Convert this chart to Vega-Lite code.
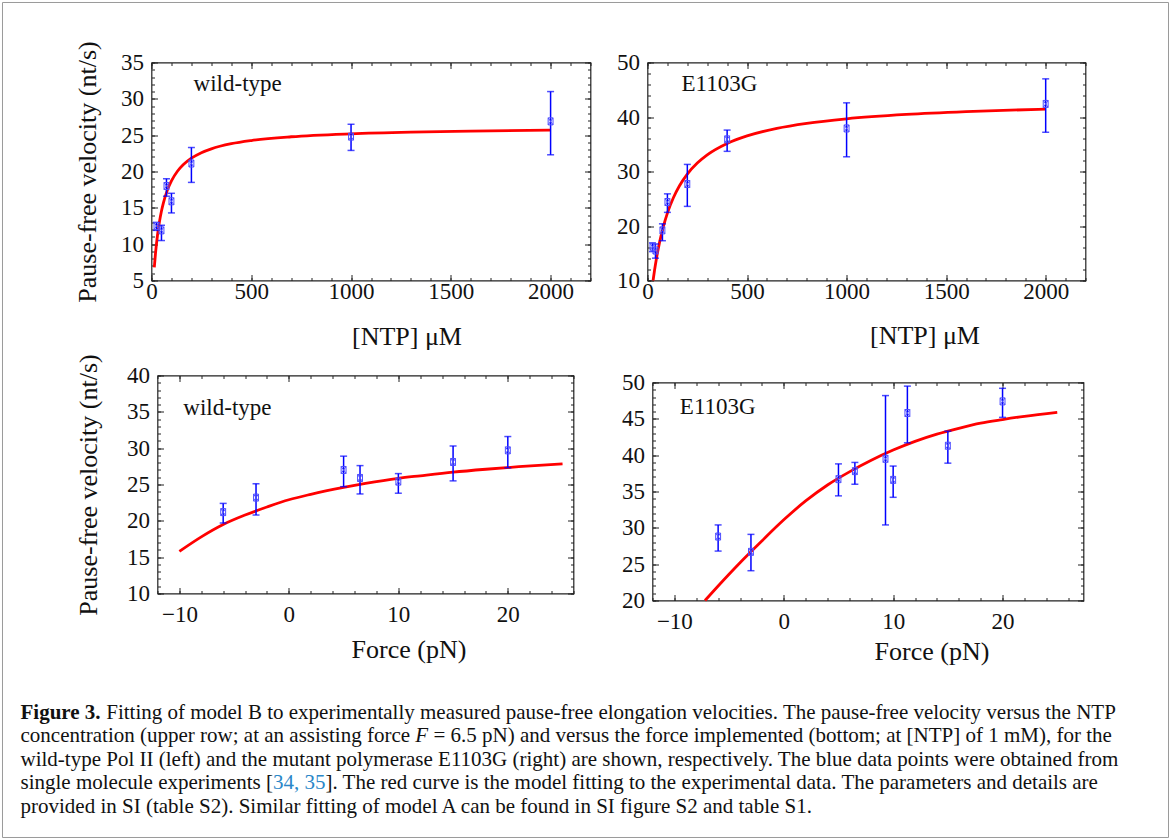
{
  "$schema": "https://vega.github.io/schema/vega-lite/v6.json",
  "background": "white",
  "padding": {"left": 1.5, "top": 1.5, "right": 0, "bottom": 0},
  "autosize": {"type": "pad"},
  "config": {
    "font": "Liberation Serif",
    "view": {"stroke": null},
    "axis": {"grid": false, "domain": false, "labelFont": "Liberation Serif", "labelFontSize": 23, "labelColor": "#111", "titleFont": "Liberation Serif", "titleFontSize": 26, "titleFontWeight": "normal", "titleColor": "#111", "labelFlush": false, "labelOverlap": false, "tickColor": "#222", "tickWidth": 1}
  },
  "datasets": {
    "wt_ntp_pts": [{"x":25,"y":12.5,"lo":11.9,"hi":13.0},{"x":50,"y":11.9,"lo":10.5,"hi":12.6},{"x":75,"y":18.0,"lo":16.6,"hi":19.0},{"x":100,"y":15.9,"lo":14.3,"hi":17.0},{"x":200,"y":21.1,"lo":18.5,"hi":23.3},{"x":1000,"y":24.8,"lo":22.9,"hi":26.5},{"x":2000,"y":26.9,"lo":22.3,"hi":31.0}],
    "wt_ntp_fit": [{"x":14,"y":6.79},{"x":20,"y":8.73},{"x":30,"y":11.23},{"x":40,"y":13.1},{"x":50,"y":14.56},{"x":60,"y":15.72},{"x":80,"y":17.47},{"x":100,"y":18.71},{"x":130,"y":20.04},{"x":160,"y":20.96},{"x":200,"y":21.83},{"x":250,"y":22.59},{"x":300,"y":23.12},{"x":400,"y":23.82},{"x":500,"y":24.26},{"x":700,"y":24.78},{"x":1000,"y":25.19},{"x":1300,"y":25.42},{"x":1600,"y":25.56},{"x":2000,"y":25.69}],
    "mut_ntp_pts": [{"x":25,"y":16.2,"lo":15.3,"hi":16.9},{"x":40,"y":15.5,"lo":14.1,"hi":16.7},{"x":75,"y":19.2,"lo":17.3,"hi":20.4},{"x":100,"y":24.4,"lo":22.5,"hi":25.9},{"x":200,"y":27.7,"lo":23.6,"hi":31.3},{"x":400,"y":35.9,"lo":33.7,"hi":37.6},{"x":1000,"y":37.9,"lo":32.7,"hi":42.6},{"x":2000,"y":42.4,"lo":37.2,"hi":47.0}],
    "mut_ntp_fit": [{"x":28,"y":10.0},{"x":35,"y":11.78},{"x":45,"y":14.05},{"x":60,"y":16.91},{"x":80,"y":19.95},{"x":100,"y":22.37},{"x":130,"y":25.19},{"x":160,"y":27.34},{"x":200,"y":29.52},{"x":250,"y":31.54},{"x":300,"y":33.05},{"x":400,"y":35.14},{"x":500,"y":36.53},{"x":650,"y":37.92},{"x":800,"y":38.84},{"x":1000,"y":39.67},{"x":1300,"y":40.47},{"x":1600,"y":40.99},{"x":2000,"y":41.45}],
    "wt_f_pts": [{"x":-6,"y":21.2,"lo":19.7,"hi":22.4},{"x":-3,"y":23.2,"lo":20.8,"hi":25.1},{"x":5,"y":27.0,"lo":24.7,"hi":28.9},{"x":6.5,"y":25.9,"lo":23.7,"hi":27.6},{"x":10,"y":25.4,"lo":23.8,"hi":26.5},{"x":15,"y":28.1,"lo":25.5,"hi":30.3},{"x":20,"y":29.7,"lo":27.3,"hi":31.6}],
    "wt_f_fit": [{"x":-10,"y":15.8},{"x":-8,"y":17.8},{"x":-6,"y":19.5},{"x":-4,"y":20.8},{"x":-2,"y":21.9},{"x":0,"y":22.9},{"x":2,"y":23.65},{"x":5,"y":24.6},{"x":7,"y":25.15},{"x":10,"y":25.85},{"x":12,"y":26.2},{"x":15,"y":26.7},{"x":18,"y":27.1},{"x":21,"y":27.45},{"x":25,"y":27.85}],
    "mut_f_pts": [{"x":-6,"y":28.8,"lo":26.8,"hi":30.4},{"x":-3,"y":26.7,"lo":24.1,"hi":29.1},{"x":5,"y":36.7,"lo":34.4,"hi":38.8},{"x":6.5,"y":37.8,"lo":36.0,"hi":39.0},{"x":9.3,"y":39.5,"lo":30.4,"hi":48.2},{"x":10,"y":36.6,"lo":34.2,"hi":38.5},{"x":11.3,"y":45.8,"lo":41.7,"hi":49.5},{"x":15,"y":41.3,"lo":38.9,"hi":43.3},{"x":20,"y":47.4,"lo":45.2,"hi":49.2}],
    "mut_f_fit": [{"x":-7.2,"y":20.0},{"x":-6,"y":22.0},{"x":-4,"y":25.2},{"x":-2,"y":28.2},{"x":0,"y":31.1},{"x":2,"y":33.7},{"x":4,"y":35.9},{"x":6,"y":37.7},{"x":8,"y":39.3},{"x":10,"y":40.7},{"x":12,"y":41.9},{"x":14,"y":42.9},{"x":16,"y":43.7},{"x":18,"y":44.4},{"x":20,"y":44.9},{"x":22,"y":45.35},{"x":25,"y":45.9}],
    "caption": [
      {"line":1,"text":"Figure 3.","style":"bold"},
      {"line":1,"text":"Fitting of model B to experimentally measured pause-free elongation velocities. The pause-free velocity versus the NTP","style":"rest1"},
      {"line":2,"text":"concentration (upper row; at an assisting force","style":"main"},
      {"line":2,"text":"F","style":"italic"},
      {"line":2,"text":"= 6.5 pN) and versus the force implemented (bottom; at [NTP] of 1 mM), for the","style":"after_f"},
      {"line":3,"text":"wild-type Pol II (left) and the mutant polymerase E1103G (right) are shown, respectively. The blue data points were obtained from","style":"main"},
      {"line":4,"text":"single molecule experiments [","style":"main"},
      {"line":4,"text":"34, 35","style":"ref"},
      {"line":4,"text":"]. The red curve is the model fitting to the experimental data. The parameters and details are","style":"after_ref"},
      {"line":5,"text":"provided in SI (table S2). Similar fitting of model A can be found in SI figure S2 and table S1.","style":"main"}
    ]
  },
  "bounds": "flush",
  "spacing": 638.25,
  "vconcat": [
    {
      "spacing": 2,
      "vconcat": [
        {
          "bounds": "flush",
          "spacing": 130,
          "hconcat": [
            {"width": 1, "height": 1, "view": {"stroke": null}, "data": {"values": [{"a": 0}]}, "mark": {"type": "point", "opacity": 0}},
            {
              "bounds": "flush",
              "spacing": 57,
              "hconcat": [
                {
                  "width": 439, "height": 218,
                  "view": {"stroke": "#222", "strokeWidth": 1.2},
                  "resolve": {"axis": {"x": "independent", "y": "independent"}},
                  "layer": [
                    {"data": {"name": "wt_ntp_fit"}, "mark": {"type": "line", "color": "#ff0000", "strokeWidth": 2.8, "interpolate": "monotone"},
                     "encoding": {
                       "x": {"field": "x", "type": "quantitative", "scale": {"domain": [0, 2200], "nice": false, "zero": false}, "axis": {"orient": "bottom", "title": "[NTP] μM", "format": "d", "values": [0, 500, 1000, 1500, 2000], "ticks": false, "tickSize": 0, "labelPadding": 0, "titleX": 255, "titleY": 64, "titleAlign": "center", "titleBaseline": "alphabetic", "titleAngle": 0}},
                       "y": {"field": "y", "type": "quantitative", "scale": {"domain": [5, 35], "nice": false, "zero": false}, "axis": {"orient": "left", "title": "Pause-free velocity (nt/s)", "values": [5, 10, 15, 20, 25, 30, 35], "ticks": false, "tickSize": 0, "labelPadding": 8, "titleX": -64.5, "titleY": 109, "titleAngle": 270, "titleAlign": "center", "titleBaseline": "middle"}}
                     }},
                    {"data": {"name": "wt_ntp_pts"}, "mark": {"type": "rule", "color": "#0000ff", "strokeWidth": 1.5},
                     "encoding": {
                       "x": {"field": "x", "type": "quantitative", "scale": {"domain": [0, 2200], "nice": false, "zero": false}, "axis": {"orient": "bottom", "labels": false, "title": null, "values": [0, 500, 1000, 1500, 2000], "tickSize": 6, "offset": -6}},
                       "y": {"field": "lo", "type": "quantitative", "scale": {"domain": [5, 35], "nice": false, "zero": false}, "axis": {"orient": "left", "labels": false, "title": null, "values": [5, 10, 15, 20, 25, 30, 35], "tickSize": 6, "offset": -6}},
                       "y2": {"field": "hi"}
                     }},
                    {"data": {"name": "wt_ntp_pts"}, "mark": {"type": "tick", "orient": "horizontal", "color": "#0000ff", "size": 7, "thickness": 1.5},
                     "encoding": {
                       "x": {"field": "x", "type": "quantitative", "scale": {"domain": [0, 2200], "nice": false, "zero": false}, "axis": {"orient": "bottom", "labels": false, "title": null, "values": [0,100,200,300,400,500,600,700,800,900,1000,1100,1200,1300,1400,1500,1600,1700,1800,1900,2000,2100,2200], "tickSize": 3, "offset": -3}},
                       "y": {"field": "lo", "type": "quantitative", "scale": {"domain": [5, 35], "nice": false, "zero": false}, "axis": {"orient": "left", "labels": false, "title": null, "values": [5,6,7,8,9,10,11,12,13,14,15,16,17,18,19,20,21,22,23,24,25,26,27,28,29,30,31,32,33,34,35], "tickSize": 3, "offset": -3}}
                     }},
                    {"data": {"name": "wt_ntp_pts"}, "mark": {"type": "tick", "orient": "horizontal", "color": "#0000ff", "size": 7, "thickness": 1.5},
                     "encoding": {
                       "x": {"field": "x", "type": "quantitative", "scale": {"domain": [0, 2200], "nice": false, "zero": false}, "axis": {"orient": "top", "labels": false, "title": null, "values": [0, 500, 1000, 1500, 2000], "tickSize": 6, "offset": -6}},
                       "y": {"field": "hi", "type": "quantitative", "scale": {"domain": [5, 35], "nice": false, "zero": false}, "axis": {"orient": "right", "labels": false, "title": null, "values": [5, 10, 15, 20, 25, 30, 35], "tickSize": 6, "offset": -6}}
                     }},
                    {"data": {"name": "wt_ntp_pts"}, "mark": {"type": "point", "shape": "M-0.7,-1H0.7V1H-0.7Z M-0.7,-1L0.7,1 M-0.7,1L0.7,-1", "size": 49, "filled": false, "color": "#4d4dff", "strokeWidth": 1, "opacity": 1},
                     "encoding": {
                       "x": {"field": "x", "type": "quantitative", "scale": {"domain": [0, 2200], "nice": false, "zero": false}, "axis": {"orient": "top", "labels": false, "title": null, "values": [0,100,200,300,400,500,600,700,800,900,1000,1100,1200,1300,1400,1500,1600,1700,1800,1900,2000,2100,2200], "tickSize": 3, "offset": -3}},
                       "y": {"field": "y", "type": "quantitative", "scale": {"domain": [5, 35], "nice": false, "zero": false}, "axis": {"orient": "right", "labels": false, "title": null, "values": [5,6,7,8,9,10,11,12,13,14,15,16,17,18,19,20,21,22,23,24,25,26,27,28,29,30,31,32,33,34,35], "tickSize": 3, "offset": -3}}
                     }},
                    {"data": {"values": [{"label": "wild-type"}]}, "mark": {"type": "text", "align": "left", "baseline": "alphabetic", "fontSize": 23, "font": "Liberation Serif", "color": "#111"},
                     "encoding": {
                       "x": {"datum": 211, "type": "quantitative", "scale": {"domain": [0, 2200], "nice": false, "zero": false}, "axis": null},
                       "y": {"datum": 31.1, "type": "quantitative", "scale": {"domain": [5, 35], "nice": false, "zero": false}, "axis": null},
                       "text": {"field": "label"}
                     }}
                  ]
                },
                {
                  "width": 438, "height": 218,
                  "view": {"stroke": "#222", "strokeWidth": 1.2},
                  "resolve": {"axis": {"x": "independent", "y": "independent"}},
                  "layer": [
                    {"data": {"name": "mut_ntp_fit"}, "mark": {"type": "line", "color": "#ff0000", "strokeWidth": 2.8, "interpolate": "monotone"},
                     "encoding": {
                       "x": {"field": "x", "type": "quantitative", "scale": {"domain": [0, 2200], "nice": false, "zero": false}, "axis": {"orient": "bottom", "title": "[NTP] μM", "format": "d", "values": [0, 500, 1000, 1500, 2000], "ticks": false, "tickSize": 0, "labelPadding": 0, "titleX": 277, "titleY": 63, "titleAlign": "center", "titleBaseline": "alphabetic", "titleAngle": 0}},
                       "y": {"field": "y", "type": "quantitative", "scale": {"domain": [10, 50], "nice": false, "zero": false}, "axis": {"orient": "left", "title": null, "values": [10, 20, 30, 40, 50], "ticks": false, "tickSize": 0, "labelPadding": 8}}
                     }},
                    {"data": {"name": "mut_ntp_pts"}, "mark": {"type": "rule", "color": "#0000ff", "strokeWidth": 1.5},
                     "encoding": {
                       "x": {"field": "x", "type": "quantitative", "scale": {"domain": [0, 2200], "nice": false, "zero": false}, "axis": {"orient": "bottom", "labels": false, "title": null, "values": [0, 500, 1000, 1500, 2000], "tickSize": 6, "offset": -6}},
                       "y": {"field": "lo", "type": "quantitative", "scale": {"domain": [10, 50], "nice": false, "zero": false}, "axis": {"orient": "left", "labels": false, "title": null, "values": [10, 20, 30, 40, 50], "tickSize": 6, "offset": -6}},
                       "y2": {"field": "hi"}
                     }},
                    {"data": {"name": "mut_ntp_pts"}, "mark": {"type": "tick", "orient": "horizontal", "color": "#0000ff", "size": 7, "thickness": 1.5},
                     "encoding": {
                       "x": {"field": "x", "type": "quantitative", "scale": {"domain": [0, 2200], "nice": false, "zero": false}, "axis": {"orient": "bottom", "labels": false, "title": null, "values": [0,100,200,300,400,500,600,700,800,900,1000,1100,1200,1300,1400,1500,1600,1700,1800,1900,2000,2100,2200], "tickSize": 3, "offset": -3}},
                       "y": {"field": "lo", "type": "quantitative", "scale": {"domain": [10, 50], "nice": false, "zero": false}, "axis": {"orient": "left", "labels": false, "title": null, "values": [10,12,14,16,18,20,22,24,26,28,30,32,34,36,38,40,42,44,46,48,50], "tickSize": 3, "offset": -3}}
                     }},
                    {"data": {"name": "mut_ntp_pts"}, "mark": {"type": "tick", "orient": "horizontal", "color": "#0000ff", "size": 7, "thickness": 1.5},
                     "encoding": {
                       "x": {"field": "x", "type": "quantitative", "scale": {"domain": [0, 2200], "nice": false, "zero": false}, "axis": {"orient": "top", "labels": false, "title": null, "values": [0, 500, 1000, 1500, 2000], "tickSize": 6, "offset": -6}},
                       "y": {"field": "hi", "type": "quantitative", "scale": {"domain": [10, 50], "nice": false, "zero": false}, "axis": {"orient": "right", "labels": false, "title": null, "values": [10, 20, 30, 40, 50], "tickSize": 6, "offset": -6}}
                     }},
                    {"data": {"name": "mut_ntp_pts"}, "mark": {"type": "point", "shape": "M-0.7,-1H0.7V1H-0.7Z M-0.7,-1L0.7,1 M-0.7,1L0.7,-1", "size": 49, "filled": false, "color": "#4d4dff", "strokeWidth": 1, "opacity": 1},
                     "encoding": {
                       "x": {"field": "x", "type": "quantitative", "scale": {"domain": [0, 2200], "nice": false, "zero": false}, "axis": {"orient": "top", "labels": false, "title": null, "values": [0,100,200,300,400,500,600,700,800,900,1000,1100,1200,1300,1400,1500,1600,1700,1800,1900,2000,2100,2200], "tickSize": 3, "offset": -3}},
                       "y": {"field": "y", "type": "quantitative", "scale": {"domain": [10, 50], "nice": false, "zero": false}, "axis": {"orient": "right", "labels": false, "title": null, "values": [10,12,14,16,18,20,22,24,26,28,30,32,34,36,38,40,42,44,46,48,50], "tickSize": 3, "offset": -3}}
                     }},
                    {"data": {"values": [{"label": "E1103G"}]}, "mark": {"type": "text", "align": "left", "baseline": "alphabetic", "fontSize": 23, "font": "Liberation Serif", "color": "#111"},
                     "encoding": {
                       "x": {"datum": 171, "type": "quantitative", "scale": {"domain": [0, 2200], "nice": false, "zero": false}, "axis": null},
                       "y": {"datum": 44.8, "type": "quantitative", "scale": {"domain": [10, 50], "nice": false, "zero": false}, "axis": null},
                       "text": {"field": "label"}
                     }}
                  ]
                }
              ]
            }
          ]
        },
        {
          "bounds": "flush",
          "spacing": 136,
          "hconcat": [
            {"width": 1, "height": 1, "view": {"stroke": null}, "data": {"values": [{"a": 0}]}, "mark": {"type": "point", "opacity": 0}},
            {
              "bounds": "flush",
              "spacing": 79,
              "hconcat": [
                {
                  "width": 416, "height": 218,
                  "view": {"stroke": "#222", "strokeWidth": 1.2},
                  "resolve": {"axis": {"x": "independent", "y": "independent"}},
                  "layer": [
                    {"data": {"name": "wt_f_fit"}, "mark": {"type": "line", "color": "#ff0000", "strokeWidth": 2.8, "interpolate": "monotone"},
                     "encoding": {
                       "x": {"field": "x", "type": "quantitative", "scale": {"domain": [-12, 26], "nice": false, "zero": false}, "axis": {"orient": "bottom", "title": "Force (pN)", "values": [-10, 0, 10, 20], "ticks": false, "tickSize": 0, "labelPadding": 10, "titleX": 251, "titleY": 64, "titleAlign": "center", "titleBaseline": "alphabetic", "titleAngle": 0}},
                       "y": {"field": "y", "type": "quantitative", "scale": {"domain": [10, 40], "nice": false, "zero": false}, "axis": {"orient": "left", "title": "Pause-free velocity (nt/s)", "values": [10, 15, 20, 25, 30, 35, 40], "ticks": false, "tickSize": 0, "labelPadding": 8, "titleX": -69, "titleY": 109, "titleAngle": 270, "titleAlign": "center", "titleBaseline": "middle"}}
                     }},
                    {"data": {"name": "wt_f_pts"}, "mark": {"type": "rule", "color": "#0000ff", "strokeWidth": 1.5},
                     "encoding": {
                       "x": {"field": "x", "type": "quantitative", "scale": {"domain": [-12, 26], "nice": false, "zero": false}, "axis": {"orient": "bottom", "labels": false, "title": null, "values": [-10, 0, 10, 20], "tickSize": 6, "offset": -6}},
                       "y": {"field": "lo", "type": "quantitative", "scale": {"domain": [10, 40], "nice": false, "zero": false}, "axis": {"orient": "left", "labels": false, "title": null, "values": [10, 15, 20, 25, 30, 35, 40], "tickSize": 6, "offset": -6}},
                       "y2": {"field": "hi"}
                     }},
                    {"data": {"name": "wt_f_pts"}, "mark": {"type": "tick", "orient": "horizontal", "color": "#0000ff", "size": 7, "thickness": 1.5},
                     "encoding": {
                       "x": {"field": "x", "type": "quantitative", "scale": {"domain": [-12, 26], "nice": false, "zero": false}, "axis": {"orient": "bottom", "labels": false, "title": null, "values": [-12,-10,-8,-6,-4,-2,0,2,4,6,8,10,12,14,16,18,20,22,24,26], "tickSize": 3, "offset": -3}},
                       "y": {"field": "lo", "type": "quantitative", "scale": {"domain": [10, 40], "nice": false, "zero": false}, "axis": {"orient": "left", "labels": false, "title": null, "values": [10,11,12,13,14,15,16,17,18,19,20,21,22,23,24,25,26,27,28,29,30,31,32,33,34,35,36,37,38,39,40], "tickSize": 3, "offset": -3}}
                     }},
                    {"data": {"name": "wt_f_pts"}, "mark": {"type": "tick", "orient": "horizontal", "color": "#0000ff", "size": 7, "thickness": 1.5},
                     "encoding": {
                       "x": {"field": "x", "type": "quantitative", "scale": {"domain": [-12, 26], "nice": false, "zero": false}, "axis": {"orient": "top", "labels": false, "title": null, "values": [-10, 0, 10, 20], "tickSize": 6, "offset": -6}},
                       "y": {"field": "hi", "type": "quantitative", "scale": {"domain": [10, 40], "nice": false, "zero": false}, "axis": {"orient": "right", "labels": false, "title": null, "values": [10, 15, 20, 25, 30, 35, 40], "tickSize": 6, "offset": -6}}
                     }},
                    {"data": {"name": "wt_f_pts"}, "mark": {"type": "point", "shape": "M-0.7,-1H0.7V1H-0.7Z M-0.7,-1L0.7,1 M-0.7,1L0.7,-1", "size": 49, "filled": false, "color": "#4d4dff", "strokeWidth": 1, "opacity": 1},
                     "encoding": {
                       "x": {"field": "x", "type": "quantitative", "scale": {"domain": [-12, 26], "nice": false, "zero": false}, "axis": {"orient": "top", "labels": false, "title": null, "values": [-12,-10,-8,-6,-4,-2,0,2,4,6,8,10,12,14,16,18,20,22,24,26], "tickSize": 3, "offset": -3}},
                       "y": {"field": "y", "type": "quantitative", "scale": {"domain": [10, 40], "nice": false, "zero": false}, "axis": {"orient": "right", "labels": false, "title": null, "values": [10,11,12,13,14,15,16,17,18,19,20,21,22,23,24,25,26,27,28,29,30,31,32,33,34,35,36,37,38,39,40], "tickSize": 3, "offset": -3}}
                     }},
                    {"data": {"values": [{"label": "wild-type"}]}, "mark": {"type": "text", "align": "left", "baseline": "alphabetic", "fontSize": 23, "font": "Liberation Serif", "color": "#111"},
                     "encoding": {
                       "x": {"datum": -9.64, "type": "quantitative", "scale": {"domain": [-12, 26], "nice": false, "zero": false}, "axis": null},
                       "y": {"datum": 34.6, "type": "quantitative", "scale": {"domain": [10, 40], "nice": false, "zero": false}, "axis": null},
                       "text": {"field": "label"}
                     }}
                  ]
                },
                {
                  "bounds": "flush",
                  "spacing": 6,
                  "vconcat": [
                    {"width": 1, "height": 1, "view": {"stroke": null}, "data": {"values": [{"a": 0}]}, "mark": {"type": "point", "opacity": 0}},
                    {
                      "width": 431, "height": 218,
                      "view": {"stroke": "#222", "strokeWidth": 1.2},
                      "resolve": {"axis": {"x": "independent", "y": "independent"}},
                      "layer": [
                        {"data": {"name": "mut_f_fit"}, "mark": {"type": "line", "color": "#ff0000", "strokeWidth": 2.8, "interpolate": "monotone"},
                         "encoding": {
                           "x": {"field": "x", "type": "quantitative", "scale": {"domain": [-12, 27.4], "nice": false, "zero": false}, "axis": {"orient": "bottom", "title": "Force (pN)", "values": [-10, 0, 10, 20], "ticks": false, "tickSize": 0, "labelPadding": 10, "titleX": 279, "titleY": 59, "titleAlign": "center", "titleBaseline": "alphabetic", "titleAngle": 0}},
                           "y": {"field": "y", "type": "quantitative", "scale": {"domain": [20, 50], "nice": false, "zero": false}, "axis": {"orient": "left", "title": null, "values": [20, 25, 30, 35, 40, 45, 50], "ticks": false, "tickSize": 0, "labelPadding": 8}}
                         }},
                        {"data": {"name": "mut_f_pts"}, "mark": {"type": "rule", "color": "#0000ff", "strokeWidth": 1.5},
                         "encoding": {
                           "x": {"field": "x", "type": "quantitative", "scale": {"domain": [-12, 27.4], "nice": false, "zero": false}, "axis": {"orient": "bottom", "labels": false, "title": null, "values": [-10, 0, 10, 20], "tickSize": 6, "offset": -6}},
                           "y": {"field": "lo", "type": "quantitative", "scale": {"domain": [20, 50], "nice": false, "zero": false}, "axis": {"orient": "left", "labels": false, "title": null, "values": [20, 25, 30, 35, 40, 45, 50], "tickSize": 6, "offset": -6}},
                           "y2": {"field": "hi"}
                         }},
                        {"data": {"name": "mut_f_pts"}, "mark": {"type": "tick", "orient": "horizontal", "color": "#0000ff", "size": 7, "thickness": 1.5},
                         "encoding": {
                           "x": {"field": "x", "type": "quantitative", "scale": {"domain": [-12, 27.4], "nice": false, "zero": false}, "axis": {"orient": "bottom", "labels": false, "title": null, "values": [-12,-10,-8,-6,-4,-2,0,2,4,6,8,10,12,14,16,18,20,22,24,26], "tickSize": 3, "offset": -3}},
                           "y": {"field": "lo", "type": "quantitative", "scale": {"domain": [20, 50], "nice": false, "zero": false}, "axis": {"orient": "left", "labels": false, "title": null, "values": [20,21,22,23,24,25,26,27,28,29,30,31,32,33,34,35,36,37,38,39,40,41,42,43,44,45,46,47,48,49,50], "tickSize": 3, "offset": -3}}
                         }},
                        {"data": {"name": "mut_f_pts"}, "mark": {"type": "tick", "orient": "horizontal", "color": "#0000ff", "size": 7, "thickness": 1.5},
                         "encoding": {
                           "x": {"field": "x", "type": "quantitative", "scale": {"domain": [-12, 27.4], "nice": false, "zero": false}, "axis": {"orient": "top", "labels": false, "title": null, "values": [-10, 0, 10, 20], "tickSize": 6, "offset": -6}},
                           "y": {"field": "hi", "type": "quantitative", "scale": {"domain": [20, 50], "nice": false, "zero": false}, "axis": {"orient": "right", "labels": false, "title": null, "values": [20, 25, 30, 35, 40, 45, 50], "tickSize": 6, "offset": -6}}
                         }},
                        {"data": {"name": "mut_f_pts"}, "mark": {"type": "point", "shape": "M-0.7,-1H0.7V1H-0.7Z M-0.7,-1L0.7,1 M-0.7,1L0.7,-1", "size": 49, "filled": false, "color": "#4d4dff", "strokeWidth": 1, "opacity": 1},
                         "encoding": {
                           "x": {"field": "x", "type": "quantitative", "scale": {"domain": [-12, 27.4], "nice": false, "zero": false}, "axis": {"orient": "top", "labels": false, "title": null, "values": [-12,-10,-8,-6,-4,-2,0,2,4,6,8,10,12,14,16,18,20,22,24,26], "tickSize": 3, "offset": -3}},
                           "y": {"field": "y", "type": "quantitative", "scale": {"domain": [20, 50], "nice": false, "zero": false}, "axis": {"orient": "right", "labels": false, "title": null, "values": [20,21,22,23,24,25,26,27,28,29,30,31,32,33,34,35,36,37,38,39,40,41,42,43,44,45,46,47,48,49,50], "tickSize": 3, "offset": -3}}
                         }},
                        {"data": {"values": [{"label": "E1103G"}]}, "mark": {"type": "text", "align": "left", "baseline": "alphabetic", "fontSize": 23, "font": "Liberation Serif", "color": "#111"},
                         "encoding": {
                           "x": {"datum": -9.5, "type": "quantitative", "scale": {"domain": [-12, 27.4], "nice": false, "zero": false}, "axis": null},
                           "y": {"datum": 45.65, "type": "quantitative", "scale": {"domain": [20, 50], "nice": false, "zero": false}, "axis": null},
                           "text": {"field": "label"}
                         }}
                      ]
                    }
                  ]
                }
              ]
            }
          ]
        }
      ]
    },
    {
      "width": 1140, "height": 117.5,
      "view": {"stroke": null},
      "layer": [
        {"data": {"values": [{"a": 0}]}, "mark": {"type": "rect", "fillOpacity": 0, "stroke": "#9a9a9a", "strokeWidth": 1},
         "encoding": {
           "x": {"datum": -0.01579, "type": "quantitative", "scale": {"domain": [0, 1]}, "axis": null},
           "x2": {"datum": 1.00702},
           "y": {"datum": -29.213, "type": "quantitative", "scale": {"domain": [0.5, 5.5], "reverse": true}, "axis": null},
           "y2": {"datum": 6.319}
         }},
        {"data": {"name": "caption"}, "transform": [{"filter": "datum.style == 'main'"}], "mark": {"type": "text", "align": "left", "baseline": "middle", "fontSize": 21, "font": "Liberation Serif", "color": "#111"},
         "encoding": {
           "x": {"datum": 0, "type": "quantitative", "scale": {"domain": [0, 1]}, "axis": null},
           "y": {"field": "line", "type": "quantitative", "scale": {"domain": [0.5, 5.5], "reverse": true}, "axis": null},
           "text": {"field": "text"}
         }},
        {"data": {"name": "caption"}, "transform": [{"filter": "datum.style == 'bold'"}], "mark": {"type": "text", "align": "left", "baseline": "middle", "fontSize": 21, "font": "Liberation Serif", "fontWeight": "bold", "color": "#111"},
         "encoding": {
           "x": {"datum": 0, "type": "quantitative", "scale": {"domain": [0, 1]}, "axis": null},
           "y": {"field": "line", "type": "quantitative", "scale": {"domain": [0.5, 5.5], "reverse": true}, "axis": null},
           "text": {"field": "text"}
         }},
        {"data": {"name": "caption"}, "transform": [{"filter": "datum.style == 'rest1'"}], "mark": {"type": "text", "align": "left", "baseline": "middle", "fontSize": 21, "font": "Liberation Serif", "color": "#111", "dx": 85.7},
         "encoding": {
           "x": {"datum": 0, "type": "quantitative", "scale": {"domain": [0, 1]}, "axis": null},
           "y": {"field": "line", "type": "quantitative", "scale": {"domain": [0.5, 5.5], "reverse": true}, "axis": null},
           "text": {"field": "text"}
         }},
        {"data": {"name": "caption"}, "transform": [{"filter": "datum.style == 'italic'"}], "mark": {"type": "text", "align": "left", "baseline": "middle", "fontSize": 21, "font": "Liberation Serif", "fontStyle": "italic", "color": "#111", "dx": 394.8},
         "encoding": {
           "x": {"datum": 0, "type": "quantitative", "scale": {"domain": [0, 1]}, "axis": null},
           "y": {"field": "line", "type": "quantitative", "scale": {"domain": [0.5, 5.5], "reverse": true}, "axis": null},
           "text": {"field": "text"}
         }},
        {"data": {"name": "caption"}, "transform": [{"filter": "datum.style == 'after_f'"}], "mark": {"type": "text", "align": "left", "baseline": "middle", "fontSize": 21, "font": "Liberation Serif", "color": "#111", "dx": 412.9},
         "encoding": {
           "x": {"datum": 0, "type": "quantitative", "scale": {"domain": [0, 1]}, "axis": null},
           "y": {"field": "line", "type": "quantitative", "scale": {"domain": [0.5, 5.5], "reverse": true}, "axis": null},
           "text": {"field": "text"}
         }},
        {"data": {"name": "caption"}, "transform": [{"filter": "datum.style == 'ref'"}], "mark": {"type": "text", "align": "left", "baseline": "middle", "fontSize": 21, "font": "Liberation Serif", "color": "#2a87c8", "dx": 252.5},
         "encoding": {
           "x": {"datum": 0, "type": "quantitative", "scale": {"domain": [0, 1]}, "axis": null},
           "y": {"field": "line", "type": "quantitative", "scale": {"domain": [0.5, 5.5], "reverse": true}, "axis": null},
           "text": {"field": "text"}
         }},
        {"data": {"name": "caption"}, "transform": [{"filter": "datum.style == 'after_ref'"}], "mark": {"type": "text", "align": "left", "baseline": "middle", "fontSize": 21, "font": "Liberation Serif", "color": "#111", "dx": 305},
         "encoding": {
           "x": {"datum": 0, "type": "quantitative", "scale": {"domain": [0, 1]}, "axis": null},
           "y": {"field": "line", "type": "quantitative", "scale": {"domain": [0.5, 5.5], "reverse": true}, "axis": null},
           "text": {"field": "text"}
         }}
      ]
    }
  ]
}
